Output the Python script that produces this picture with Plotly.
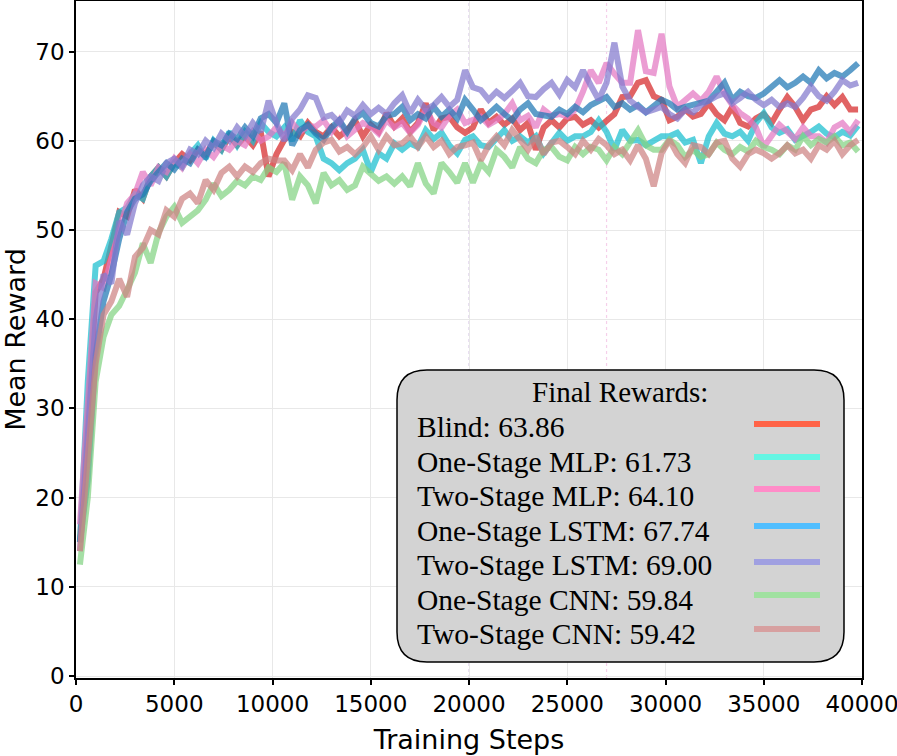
import plotly.graph_objects as go

# training steps (one sample every 400 steps)
steps = list(range(200, 40000, 400))

blind = [
    15.0, 30.0, 43.0, 44.5, 48.5, 52.0, 51.5, 54.5, 53.5, 56.0,
    57.0, 56.0, 57.5, 58.5, 57.8, 59.0, 58.5, 59.8, 59.0, 60.5,
    59.5, 60.5, 59.5, 61.0, 56.0, 58.5, 60.1, 61.0, 60.5, 62.0,
    61.0, 60.5, 61.5, 60.5, 61.2, 62.3, 60.5, 61.8, 61.0, 63.1,
    61.6, 62.5, 61.0, 62.0, 64.2, 61.2, 62.5, 62.7, 61.5, 60.9,
    61.5, 63.5, 62.0, 62.7, 61.8, 62.5, 61.2, 62.0, 59.0, 61.5,
    62.3, 61.5, 62.5, 62.7, 61.8, 62.3, 61.5, 62.3, 63.0, 64.9,
    65.0, 66.5, 66.8, 65.0, 64.6, 62.3, 62.7, 63.5, 62.7, 63.0,
    64.2, 63.0, 62.3, 63.8, 62.0, 61.6, 62.5, 63.0, 62.0, 63.5,
    64.9, 63.8, 62.3, 63.5, 63.8, 65.0, 64.0, 64.9, 63.5, 63.5,
]
one_mlp = [
    15.0, 33.0, 46.0, 46.5, 49.0, 52.0, 52.5, 54.0, 53.5, 56.0,
    57.0, 56.0, 57.5, 57.0, 58.5, 59.5, 58.0, 60.0, 59.0, 61.0,
    59.5, 61.0, 60.0, 62.0, 61.0, 60.5, 61.5, 60.0, 62.3, 61.0,
    60.5, 58.0, 57.5, 56.7, 57.5, 58.0, 59.0, 56.5, 58.6, 58.0,
    59.7, 59.0, 59.7, 59.3, 61.2, 60.2, 60.9, 59.5, 58.6, 60.1,
    60.5, 59.5, 59.3, 60.2, 61.2, 60.0, 60.5, 59.8, 60.5, 58.6,
    59.7, 60.9, 60.0, 60.5, 60.5, 61.0, 62.3, 61.0, 59.0, 61.2,
    60.0, 60.1, 59.5, 60.1, 60.5, 60.5, 60.9, 59.8, 60.1, 57.5,
    60.5, 62.0, 60.8, 60.5, 61.0, 60.0, 62.0, 63.1, 61.5, 60.9,
    61.3, 60.1, 60.5, 61.0, 61.6, 60.8, 60.4, 61.0, 60.6, 61.7,
]
two_mlp = [
    17.0, 30.0, 44.0, 43.5, 47.0, 50.0, 53.0, 54.0, 56.5, 55.0,
    57.0, 56.5, 58.0, 57.0, 58.5, 57.5, 59.0, 58.2, 59.5, 59.0,
    60.0, 59.5, 61.0, 60.0, 60.5, 61.5, 60.5, 62.0, 61.0, 61.6,
    61.6, 62.3, 61.0, 62.3, 60.5, 61.2, 62.0, 61.6, 60.8, 62.3,
    61.5, 62.0, 60.9, 61.8, 63.5, 62.0, 61.5, 62.8, 63.5, 62.0,
    62.3, 62.7, 61.8, 62.3, 63.0, 64.2, 62.3, 62.8, 61.5, 63.5,
    62.8, 63.0, 62.7, 63.5, 65.5, 67.9, 66.5, 68.7, 67.5, 66.5,
    66.5, 72.4, 67.8, 67.6, 72.0, 66.1, 63.8, 64.5, 65.3, 64.5,
    65.5, 67.2, 65.3, 64.0, 63.1, 62.5, 61.5, 59.3, 60.5, 61.8,
    61.0, 60.2, 61.5, 60.5, 60.5, 59.8, 61.5, 62.0, 61.0, 62.3,
]
one_lstm = [
    15.0, 22.0, 36.0, 42.0, 45.0, 49.0, 52.0, 53.5, 54.0, 55.5,
    56.5, 57.5, 56.8, 58.0, 57.5, 59.0, 58.2, 60.0, 59.5, 60.8,
    60.2, 61.5, 60.5, 62.5, 63.0, 62.0, 64.2, 59.5, 61.2, 61.8,
    60.8, 60.1, 61.5, 62.3, 61.0, 62.5, 63.1, 62.0, 61.6, 62.8,
    63.0, 63.8, 62.3, 63.0, 62.5, 63.8, 62.7, 63.5, 62.5, 64.6,
    63.5, 62.3, 63.0, 63.8, 63.0, 62.3, 63.5, 64.2, 63.0, 62.8,
    62.7, 63.5, 63.0, 63.8, 63.2, 64.0, 64.5, 64.9, 63.8, 64.2,
    63.5, 64.0, 63.2, 63.8, 64.6, 64.2, 63.5, 63.8, 64.0, 64.2,
    64.5, 65.5, 66.5, 64.6, 65.5, 65.0, 64.8, 65.3, 66.0, 66.8,
    66.0, 66.5, 67.2, 66.5, 67.9, 67.0, 67.6, 67.2, 67.9, 68.7,
]
two_lstm = [
    14.0, 28.0, 40.0, 45.0, 44.0, 51.0, 49.5, 53.0, 55.0, 56.0,
    55.5, 57.5, 58.0, 57.2, 59.0, 58.5, 60.0, 59.2, 60.8, 60.0,
    61.5, 60.5, 62.0, 61.0, 64.5, 62.0, 60.0, 62.5, 63.5, 65.1,
    64.8, 62.6, 62.9, 62.0, 63.4, 62.8, 64.0, 63.0, 63.7, 63.0,
    64.2, 65.1, 63.1, 64.6, 63.5, 64.0, 64.9, 63.8, 64.6, 67.9,
    66.0, 65.7, 64.6, 65.5, 64.8, 65.6, 66.5, 65.0, 64.9, 65.8,
    66.5, 65.2, 66.8, 66.0, 67.9, 66.2, 64.6, 66.5, 71.0, 66.1,
    64.5, 63.8, 63.2, 63.5, 63.8, 63.0, 62.5, 63.5, 63.2, 64.0,
    64.5, 65.0, 65.3, 64.2, 64.8, 65.5, 64.6, 64.0, 64.6, 63.8,
    64.2, 63.8, 64.8, 66.1, 65.0, 64.5, 65.5, 66.8, 66.2, 66.5,
]
one_cnn = [
    12.5, 20.0, 33.0, 38.0, 40.5, 41.5, 43.3, 45.2, 48.5, 46.3,
    49.7, 51.5, 52.6, 50.8, 51.5, 52.2, 53.4, 55.2, 53.8, 54.5,
    55.5, 55.0, 56.0, 55.6, 57.0, 56.5, 57.5, 53.4, 56.0, 55.0,
    53.0, 56.4, 55.0, 55.6, 54.5, 55.0, 57.1, 56.4, 55.5, 56.0,
    55.2, 56.0, 54.9, 57.5, 55.2, 54.1, 57.5, 56.5, 55.3, 57.5,
    55.3, 57.5, 56.5, 59.0, 58.2, 57.0, 59.3, 58.0, 57.5, 59.0,
    59.3, 58.2, 57.8, 59.3, 58.5, 59.3, 59.0, 57.8, 59.3, 58.5,
    60.0, 61.2, 59.5, 59.0, 59.0, 60.1, 59.5, 58.2, 59.0, 58.2,
    58.5, 59.8, 59.0, 58.5, 59.3, 58.8, 60.0, 59.3, 59.0, 58.5,
    59.5, 59.0, 60.5, 59.5, 60.2, 59.8, 60.5, 59.5, 59.8, 58.8,
]
two_cnn = [
    14.0, 24.0, 35.0, 40.5, 42.0, 44.5, 42.5, 47.0, 48.0, 50.0,
    49.5, 52.2, 51.5, 53.5, 54.1, 53.0, 55.6, 54.5, 56.4, 57.1,
    56.0, 57.1, 56.5, 57.5, 58.0, 57.8, 57.8, 56.7, 58.5, 57.0,
    59.0, 59.8, 60.1, 58.8, 59.3, 58.5, 59.3, 60.5, 59.0, 60.5,
    59.5, 59.7, 60.5, 59.3, 60.5, 59.3, 60.0, 58.5, 59.3, 59.5,
    59.8, 57.8, 59.5, 60.5, 59.5, 61.2, 60.0, 59.0, 60.5, 58.5,
    59.8, 60.0, 59.3, 58.5, 60.0, 59.0, 60.2, 59.5, 58.5, 59.0,
    57.8, 59.5, 58.0, 54.9, 58.6, 60.1, 58.5, 57.5, 59.5, 59.3,
    58.5, 59.8, 60.0, 58.0, 57.1, 58.5, 59.0, 58.6, 58.0, 58.6,
    59.5, 58.6, 59.0, 58.0, 59.5, 59.0, 60.0, 58.5, 59.5, 60.1,
]

names = ["Blind", "One-Stage MLP", "Two-Stage MLP", "One-Stage LSTM",
         "Two-Stage LSTM", "One-Stage CNN", "Two-Stage CNN"]
final_rewards = [63.86, 61.73, 64.10, 67.74, 69.00, 59.84, 59.42]
series = [blind, one_mlp, two_mlp, one_lstm, two_lstm, one_cnn, two_cnn]

line_colors = ["rgba(214,39,40,0.72)", "rgba(23,190,207,0.72)", "rgba(227,119,194,0.72)",
               "rgba(31,119,180,0.72)", "rgba(130,120,205,0.72)", "rgba(130,210,130,0.72)",
               "rgba(205,130,130,0.72)"]
legend_colors = ["#FF6347", "#64F5E3", "#FF8CC8", "#50BEFF", "#A0A0E1", "#A0E1A0", "#D7A0A0"]

W, H = 897, 756
L, R, T, B = 76, 35, 1, 78
pw, ph = W - L - R, H - T - B


def px(x):
    return (x - L) / pw


def py(y):
    return (H - B - y) / ph


fig = go.Figure()

for name, vals, col in zip(names, series, line_colors):
    fig.add_trace(go.Scatter(x=steps, y=vals, mode="lines", name=name,
                             line=dict(color=col, width=6), showlegend=False))

# dotted markers
fig.add_vline(x=20000, line=dict(color="rgba(148,103,189,0.35)", width=1.2, dash="dot"), layer="below")
fig.add_vline(x=27000, line=dict(color="rgba(227,119,194,0.35)", width=1.2, dash="dot"), layer="below")

# legend box with rounded corners
x0, x1, y0, y1 = px(397), px(844), py(662), py(370)
rx, ry = 30 / pw, 30 / ph
path = (f"M {x0+rx},{y1} L {x1-rx},{y1} Q {x1},{y1} {x1},{y1-ry} "
        f"L {x1},{y0+ry} Q {x1},{y0} {x1-rx},{y0} L {x0+rx},{y0} "
        f"Q {x0},{y0} {x0},{y0+ry} L {x0},{y1-ry} Q {x0},{y1} {x0+rx},{y1} Z")
fig.add_shape(type="path", path=path, xref="paper", yref="paper",
              fillcolor="#D3D3D3", line=dict(color="black", width=1.5), layer="above")

serif = "Liberation Serif, Times New Roman, serif"
fig.add_annotation(x=px(620), y=py(392), xref="paper", yref="paper", text="Final Rewards:",
                   showarrow=False, font=dict(family=serif, size=29, color="black"),
                   xanchor="center", yanchor="middle")
text_y = [427, 462, 496, 531, 565, 600, 634]
line_y = [424, 457, 489, 526, 562, 595, 629]
for name, val, col, ty, ly in zip(names, final_rewards, legend_colors, text_y, line_y):
    fig.add_annotation(x=px(415), y=py(ty), xref="paper", yref="paper",
                       text=f"{name}: {val:.2f}", showarrow=False,
                       font=dict(family=serif, size=29.5, color="black"),
                       xanchor="left", yanchor="middle")
    fig.add_shape(type="line", xref="paper", yref="paper", x0=px(754), x1=px(820),
                  y0=py(ly), y1=py(ly), line=dict(color=col, width=6), layer="above")

axis_font = dict(family="DejaVu Sans, sans-serif", size=23, color="black")
title_font = dict(family="DejaVu Sans, sans-serif", size=27, color="black")
fig.update_xaxes(range=[0, 40000], tickvals=list(range(0, 40001, 5000)), tickformat="d",
                 showline=True, linecolor="black", linewidth=1.5, mirror=True,
                 ticks="outside", ticklen=5, tickwidth=1.5, tickcolor="black",
                 showgrid=True, gridcolor="#E8E8E8", gridwidth=1, zeroline=False,
                 tickfont=axis_font, automargin=False, ticklabeloverflow="allow",
                 title=dict(text="Training Steps", font=title_font, standoff=14))
fig.update_yaxes(range=[-0.22, 75.67], tickvals=list(range(0, 71, 10)),
                 showline=True, linecolor="black", linewidth=1.5, mirror=True,
                 ticks="outside", ticklen=5, tickwidth=1.5, tickcolor="black",
                 showgrid=True, gridcolor="#E8E8E8", gridwidth=1, zeroline=False,
                 tickfont=axis_font, automargin=False,
                 title=dict(text="Mean Reward", font=title_font, standoff=12))

fig.update_layout(width=W, height=H, margin=dict(l=L, r=R, t=T, b=B),
                  plot_bgcolor="white", paper_bgcolor="white", showlegend=False)

# drop the browser's default page margin so the figure sits at the window corner
fig.write_html("out.html", config={"displayModeBar": False},
               post_script="document.body.style.margin = '0';")
